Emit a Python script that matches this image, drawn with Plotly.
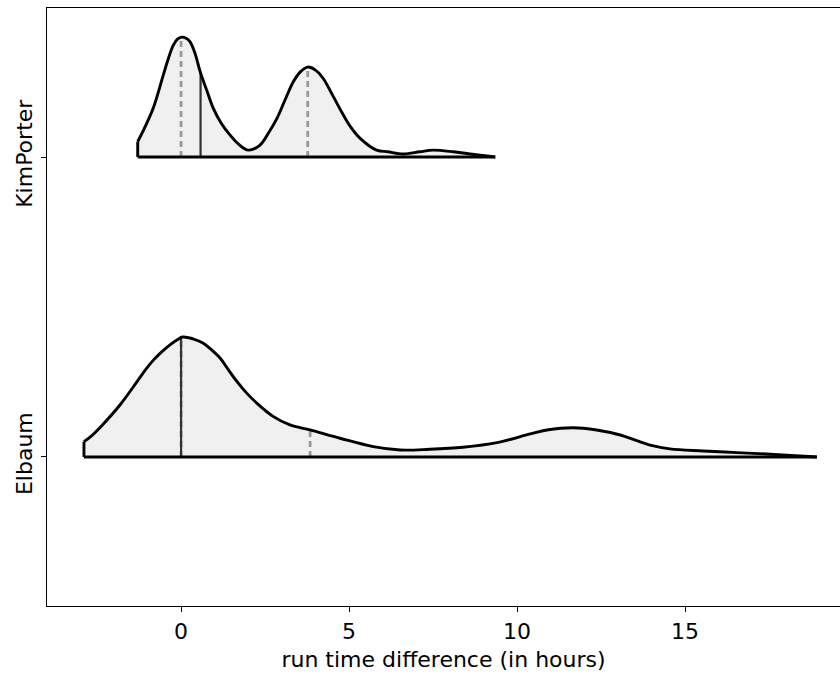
import numpy as np
import plotly.graph_objects as go

# Groups shown on the categorical axis (bottom to top)
groups = ["Elbaum", "KimPorter"]

# Density curves (relative height, peak = 1) over run time difference in hours
kim_x = [-1.29, -1.14, -0.83, -0.53, -0.38, -0.23, -0.1, 0.02, 0.15, 0.27, 0.42,
         0.57, 0.76, 0.96, 1.2, 1.46, 1.72, 2.0, 2.35, 2.6, 2.85, 3.1, 3.34, 3.55,
         3.77, 4.0, 4.23, 4.5, 4.83, 5.05, 5.33, 5.82, 6.15, 6.61, 7.11, 7.5,
         8.1, 8.6, 9.35]
kim_d = [0.128, 0.211, 0.406, 0.683, 0.82, 0.933, 0.985, 1.0, 0.99, 0.96, 0.86,
         0.71, 0.56, 0.406, 0.28, 0.183, 0.105, 0.058, 0.1, 0.2, 0.32, 0.48, 0.627,
         0.71, 0.75, 0.725, 0.655, 0.52, 0.35, 0.25, 0.156, 0.058, 0.044, 0.025,
         0.044, 0.058, 0.044, 0.025, 0.0]

elb_x = [-2.89, -2.70, -2.34, -1.82, -1.31, -1.05, -0.83, -0.6, -0.33, -0.1, 0.05,
         0.35, 0.65, 0.9, 1.16, 1.4, 1.66, 1.96, 2.26, 2.75, 3.24, 3.84, 4.73, 5.72,
         6.52, 7.4, 8.39, 9.4, 10.39, 10.89, 11.67, 12.37, 13.07, 13.56, 14.06,
         14.55, 15.55, 16.54, 17.53, 18.92]
elb_d = [0.128, 0.167, 0.267, 0.433, 0.628, 0.73, 0.805, 0.87, 0.935, 0.98, 1.0,
         0.985, 0.95, 0.895, 0.825, 0.73, 0.63, 0.53, 0.447, 0.336, 0.267, 0.225,
         0.156, 0.086, 0.058, 0.064, 0.081, 0.119, 0.192, 0.225, 0.244, 0.225, 0.183,
         0.136, 0.092, 0.067, 0.05, 0.036, 0.023, 0.0]

# Summary markers: dashed = quartile positions, solid = centre line
kim_dashed = [0.0, 3.77]
kim_solid = [0.58]
elb_dashed = [0.0, 3.84]
elb_solid = [0.0]

x_ticks = [0, 5, 10, 15]

HALF_WIDTH = 0.4
FILL = "#f0f0f0"
FONT = "DejaVu Sans"
SMOOTH = 1.0

fig = go.Figure()


def add_half_violin(xs, ds, base, dashed, solid):
    xs = np.asarray(xs, dtype=float)
    ys = base + HALF_WIDTH * np.asarray(ds, dtype=float)
    # baseline helper for the fill
    fig.add_trace(go.Scatter(x=[xs[0], xs[-1]], y=[base, base], mode="lines",
                             line=dict(width=0), hoverinfo="skip", showlegend=False))
    fig.add_trace(go.Scatter(x=xs, y=ys, mode="lines", fill="tonexty",
                             fillcolor=FILL,
                             line=dict(width=0, shape="spline", smoothing=SMOOTH),
                             hoverinfo="skip", showlegend=False))
    # inner lines
    for v in dashed:
        top = np.interp(v, xs, ys)
        fig.add_trace(go.Scatter(x=[v, v], y=[base, top], mode="lines",
                                 line=dict(color="#999999", width=2.8, dash="6px,4px"),
                                 hoverinfo="skip", showlegend=False))
    for v in solid:
        top = np.interp(v, xs, ys)
        fig.add_trace(go.Scatter(x=[v, v], y=[base, top], mode="lines",
                                 line=dict(color="#333333", width=2.2),
                                 hoverinfo="skip", showlegend=False))
    # outline: left edge, curve, baseline
    fig.add_trace(go.Scatter(x=[xs[0], xs[0]], y=[base, ys[0]], mode="lines",
                             line=dict(color="black", width=2.9),
                             hoverinfo="skip", showlegend=False))
    fig.add_trace(go.Scatter(x=xs, y=ys, mode="lines",
                             line=dict(color="black", width=2.9, shape="spline",
                                       smoothing=SMOOTH),
                             hoverinfo="skip", showlegend=False))
    fig.add_trace(go.Scatter(x=[xs[0], xs[-1]], y=[base, base], mode="lines",
                             line=dict(color="black", width=3),
                             hoverinfo="skip", showlegend=False))


add_half_violin(elb_x, elb_d, 0, elb_dashed, elb_solid)
add_half_violin(kim_x, kim_d, 1, kim_dashed, kim_solid)

fig.update_layout(
    width=840, height=677,
    margin=dict(l=47, r=0, t=8, b=71),
    paper_bgcolor="white", plot_bgcolor="white",
    font=dict(family=FONT, size=22, color="black"),
    showlegend=False,
)
fig.update_xaxes(
    range=[-3.99, 19.61], tickvals=x_ticks, ticktext=[str(t) for t in x_ticks],
    showgrid=False, zeroline=False,
    showline=True, linecolor="black", linewidth=1.4, mirror=True,
    ticks="outside", ticklen=5, tickwidth=1.3, tickcolor="black",
    tickfont=dict(size=22),
    title=dict(text="run time difference (in hours)", font=dict(size=22), standoff=9),
)
fig.update_yaxes(
    range=[-0.497, 1.497], tickvals=[0, 1], ticktext=groups, tickangle=-90,
    showgrid=False, zeroline=False,
    showline=True, linecolor="black", linewidth=1.4,
    ticks="outside", ticklen=5, tickwidth=1.3, tickcolor="black",
    tickfont=dict(size=22),
)

fig.write_html("out.html")
